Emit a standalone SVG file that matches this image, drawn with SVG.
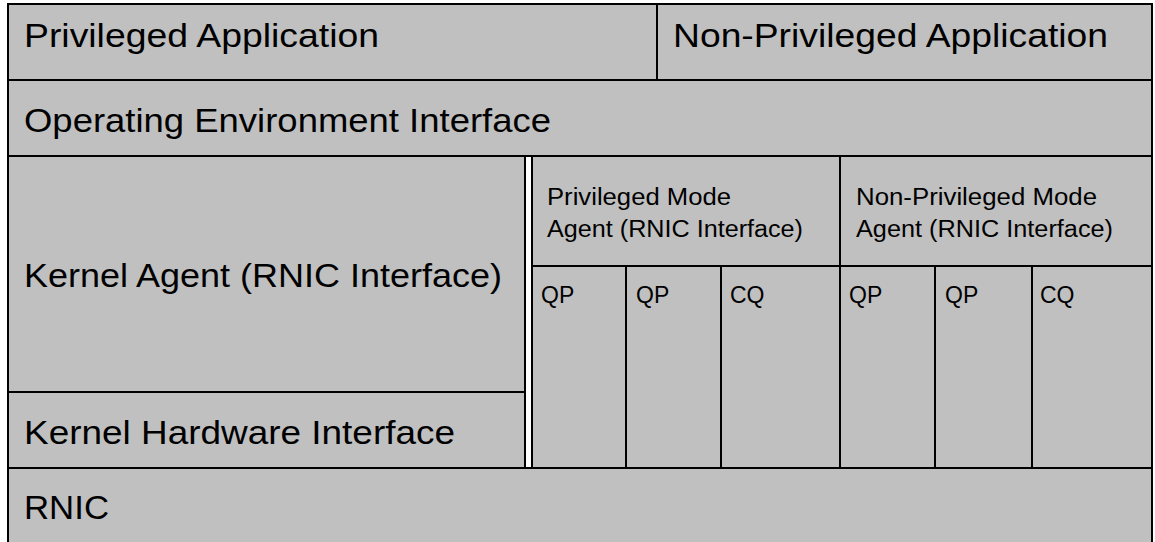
<svg xmlns="http://www.w3.org/2000/svg" width="1155" height="542" viewBox="0 0 1155 542">
<style>
.box{fill:#c0c0c0;stroke:#000;stroke-width:2}
.ln{stroke:#000;stroke-width:2;fill:none}
.big{font-family:"Liberation Sans",Arial,sans-serif;font-size:34px;fill:#000}
.sm{font-family:"Liberation Sans",Arial,sans-serif;font-size:23px;fill:#000}
</style>
<rect x="0" y="0" width="1155" height="542" fill="#fff"/>
<g id="privileged-application">
<rect class="box" x="8" y="4" width="649" height="76"/>
<text class="big" x="24" y="47" textLength="355" lengthAdjust="spacingAndGlyphs">Privileged Application</text>
</g>
<g id="non-privileged-application">
<rect class="box" x="657" y="4" width="495" height="76"/>
<text class="big" x="673" y="47" textLength="435" lengthAdjust="spacingAndGlyphs">Non-Privileged Application</text>
</g>
<g id="operating-environment-interface">
<rect class="box" x="8" y="80" width="1144" height="76"/>
<text class="big" x="24" y="132" textLength="527" lengthAdjust="spacingAndGlyphs">Operating Environment Interface</text>
</g>
<g id="kernel-agent">
<rect class="box" x="8" y="156" width="517" height="236"/>
<text class="big" x="24" y="287" textLength="478" lengthAdjust="spacingAndGlyphs">Kernel Agent (RNIC Interface)</text>
</g>
<g id="kernel-hardware-interface">
<rect class="box" x="8" y="392" width="517" height="76"/>
<text class="big" x="24" y="444" textLength="431" lengthAdjust="spacingAndGlyphs">Kernel Hardware Interface</text>
</g>
<g id="privileged-mode-agent">
<rect class="box" x="532" y="156" width="308" height="110"/>
<text class="sm" x="547" y="205" textLength="184" lengthAdjust="spacingAndGlyphs">Privileged Mode</text>
<text class="sm" x="547" y="237" textLength="256" lengthAdjust="spacingAndGlyphs">Agent (RNIC Interface)</text>
</g>
<g id="non-privileged-mode-agent">
<rect class="box" x="840" y="156" width="312" height="110"/>
<text class="sm" x="856" y="205" textLength="241" lengthAdjust="spacingAndGlyphs">Non-Privileged Mode</text>
<text class="sm" x="856" y="237" textLength="257" lengthAdjust="spacingAndGlyphs">Agent (RNIC Interface)</text>
</g>
<g id="qp1"><rect class="box" x="532" y="266" width="94" height="202"/><text class="sm" x="541" y="303">QP</text></g>
<g id="qp2"><rect class="box" x="626" y="266" width="95" height="202"/><text class="sm" x="636" y="303">QP</text></g>
<g id="cq1"><rect class="box" x="721" y="266" width="119" height="202"/><text class="sm" x="730" y="303">CQ</text></g>
<g id="qp3"><rect class="box" x="840" y="266" width="95" height="202"/><text class="sm" x="849" y="303">QP</text></g>
<g id="qp4"><rect class="box" x="935" y="266" width="97" height="202"/><text class="sm" x="945" y="303">QP</text></g>
<g id="cq2"><rect class="box" x="1032" y="266" width="120" height="202"/><text class="sm" x="1040" y="303">CQ</text></g>
<g id="rnic">
<rect class="box" x="8" y="468" width="1144" height="80"/>
<text class="big" x="24" y="519" textLength="85" lengthAdjust="spacingAndGlyphs">RNIC</text>
</g>
<g id="connectors"></g>
</svg>
